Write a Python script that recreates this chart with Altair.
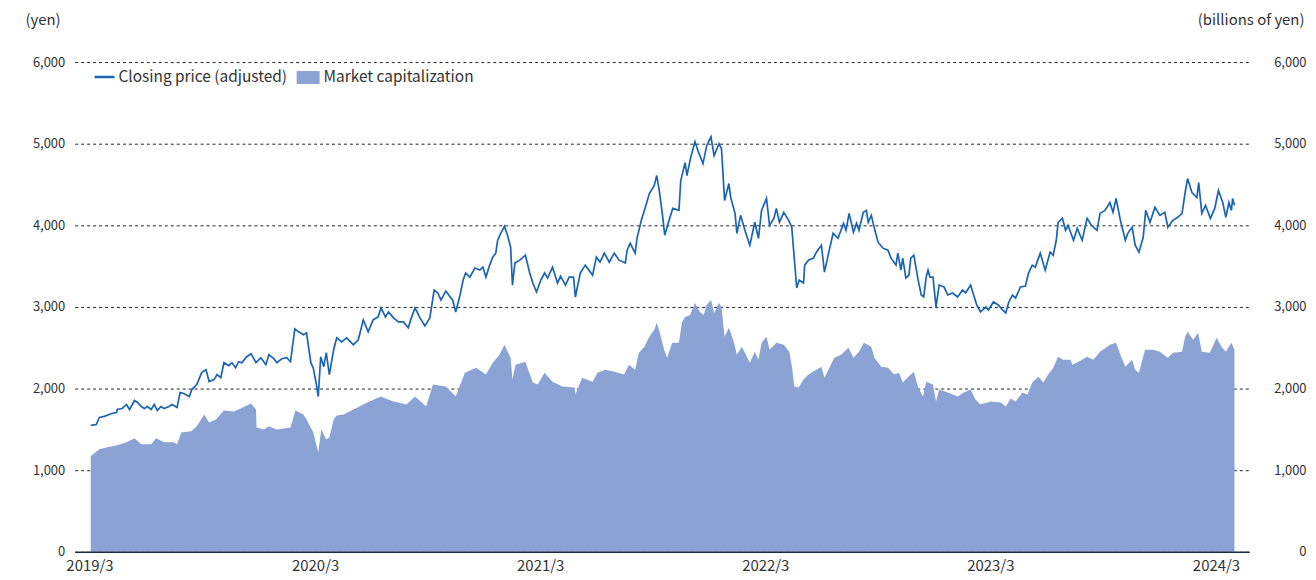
import altair as alt
import pandas as pd

# ---- data ----
# day offsets counted from 2019-03-01
price_day = [2, 11, 16, 24, 36, 44, 45, 53, 60, 65,
             73, 78, 84, 89, 94, 100, 105, 110, 116, 121,
             129, 134, 142, 147, 153, 162, 166, 174, 182, 189,
             194, 202, 207, 213, 218, 226, 231, 237, 242, 247,
             255, 262, 270, 278, 286, 291, 299, 304, 312, 320,
             326, 333, 339, 347, 352, 359, 363, 368, 371, 375,
             380, 384, 389, 396, 401, 409, 417, 428, 436, 444,
             452, 460, 468, 473, 480, 485, 493, 501, 509, 517,
             522, 528, 536, 544, 552, 559, 565, 570, 578, 585,
             589, 594, 601, 606, 610, 617, 625, 633, 638, 643,
             649, 654, 659, 662, 667, 673, 678, 683, 686, 690,
             698, 707, 714, 719, 725, 732, 738, 743, 751, 759,
             764, 772, 778, 785, 788, 796, 804, 816, 822, 828,
             835, 843, 851, 859, 869, 872, 877, 885, 888, 895,
             901, 908, 916, 920, 924, 929, 933, 940, 946, 956,
             959, 966, 969, 975, 982, 988, 995, 1001, 1008, 1013,
             1021, 1025, 1030, 1037, 1040, 1047, 1050, 1056, 1063, 1071,
             1079, 1085, 1090, 1098, 1103, 1110, 1114, 1119, 1126, 1134,
             1139, 1142, 1147, 1151, 1158, 1160, 1166, 1174, 1179, 1187,
             1192, 1198, 1206, 1214, 1223, 1227, 1232, 1239, 1244, 1248,
             1255, 1260, 1263, 1268, 1273, 1279, 1287, 1295, 1300, 1308,
             1311, 1316, 1319, 1324, 1329, 1332, 1337, 1344, 1349, 1353,
             1357, 1360, 1363, 1368, 1373, 1378, 1386, 1392, 1400, 1408,
             1416, 1421, 1429, 1434, 1439, 1445, 1454, 1458, 1466, 1474,
             1481, 1486, 1491, 1497, 1502, 1510, 1518, 1523, 1529, 1534,
             1542, 1550, 1558, 1563, 1568, 1571, 1578, 1583, 1587, 1596,
             1602, 1610, 1618, 1625, 1634, 1639, 1647, 1655, 1660, 1665,
             1672, 1680, 1684, 1691, 1696, 1702, 1709, 1713, 1720, 1728,
             1736, 1744, 1749, 1757, 1765, 1772, 1777, 1781, 1788, 1796,
             1799, 1804, 1810, 1818, 1825, 1831, 1838, 1843, 1848, 1852,
             1854, 1857]
price_val = [1549, 1560, 1646, 1660, 1695, 1707, 1744, 1756, 1805, 1744,
             1854, 1829, 1780, 1756, 1780, 1744, 1805, 1732, 1780, 1756,
             1780, 1805, 1768, 1951, 1939, 1902, 1988, 2049, 2195, 2232,
             2085, 2110, 2171, 2134, 2317, 2280, 2317, 2256, 2329, 2317,
             2390, 2427, 2317, 2378, 2293, 2415, 2366, 2317, 2366, 2378,
             2329, 2732, 2695, 2659, 2683, 2317, 2250, 2050, 1902, 2390,
             2268, 2439, 2171, 2476, 2622, 2573, 2622, 2537, 2598, 2841,
             2695, 2841, 2878, 2988, 2878, 2939, 2866, 2817, 2817, 2744,
             2866, 2988, 2866, 2768, 2866, 3207, 3171, 3085, 3195, 3122,
             3085, 2939, 3146, 3329, 3415, 3366, 3476, 3451, 3488, 3366,
             3512, 3610, 3659, 3817, 3902, 3988, 3878, 3732, 3268, 3537,
             3573, 3634, 3415, 3293, 3183, 3329, 3415, 3354, 3488, 3293,
             3378, 3268, 3366, 3366, 3122, 3415, 3512, 3390, 3610, 3549,
             3659, 3549, 3659, 3573, 3537, 3695, 3780, 3659, 3841, 4061,
             4207, 4390, 4488, 4610, 4427, 4146, 3878, 4061, 4207, 4183,
             4549, 4768, 4610, 4829, 5024, 4890, 4756, 4976, 5085, 4854,
             5000, 4939, 4305, 4512, 4341, 4146, 3902, 4122, 3939, 3756,
             4037, 3841, 4183, 4329, 4000, 4085, 4207, 4037, 4159, 4061,
             3976, 3695, 3232, 3329, 3293, 3512, 3573, 3598, 3671, 3756,
             3427, 3634, 3902, 3841, 4024, 3939, 4146, 3915, 4024, 3939,
             4159, 4183, 4037, 4122, 3963, 3793, 3720, 3695, 3598, 3512,
             3659, 3451, 3598, 3354, 3390, 3598, 3634, 3329, 3146, 3122,
             3366, 3451, 3366, 3366, 3000, 3268, 3244, 3146, 3171, 3122,
             3207, 3171, 3268, 3146, 3024, 2939, 3000, 2963, 3061, 3024,
             2963, 2927, 3061, 3146, 3110, 3244, 3256, 3415, 3512, 3488,
             3659, 3451, 3671, 3634, 3817, 4037, 4085, 3939, 4000, 3817,
             3963, 3817, 4085, 4000, 3939, 4146, 4183, 4280, 4159, 4329,
             4061, 3817, 3902, 3976, 3756, 3671, 3854, 4183, 4037, 4220,
             4122, 4159, 3976, 4061, 4098, 4146, 4402, 4573, 4402, 4341,
             4524, 4146, 4244, 4085, 4207, 4427, 4280, 4098, 4280, 4183,
             4329, 4244]

cap_day = [2, 16, 29, 45, 60, 73, 84, 100, 108, 121,
           137, 142, 149, 165, 174, 186, 194, 205, 218, 234,
           245, 262, 270, 271, 283, 291, 304, 326, 334, 347,
           352, 363, 371, 376, 384, 389, 396, 401, 412, 444,
           472, 493, 514, 528, 546, 557, 578, 594, 609, 627,
           643, 654, 665, 673, 683, 686, 691, 707, 719, 727,
           738, 751, 767, 787, 788, 799, 816, 824, 837, 851,
           867, 875, 885, 891, 900, 908, 916, 920, 925, 932,
           937, 945, 956, 961, 966, 974, 982, 990, 996, 1001,
           1008, 1013, 1021, 1025, 1030, 1037, 1045, 1050, 1058, 1063,
           1071, 1079, 1085, 1090, 1098, 1103, 1114, 1126, 1135, 1140,
           1143, 1150, 1158, 1166, 1179, 1187, 1192, 1200, 1208, 1219,
           1231, 1239, 1248, 1256, 1268, 1273, 1284, 1295, 1305, 1313,
           1319, 1328, 1337, 1344, 1352, 1357, 1368, 1373, 1378, 1392,
           1408, 1418, 1429, 1437, 1445, 1462, 1478, 1486, 1494, 1502,
           1513, 1521, 1529, 1539, 1547, 1555, 1563, 1571, 1579, 1591,
           1594, 1604, 1618, 1628, 1639, 1655, 1665, 1672, 1680, 1691,
           1696, 1702, 1712, 1725, 1736, 1749, 1757, 1772, 1777, 1781,
           1790, 1798, 1804, 1817, 1828, 1836, 1843, 1852, 1857]
cap_val = [1171, 1256, 1280, 1305, 1341, 1390, 1317, 1317, 1390, 1341,
           1341, 1317, 1463, 1476, 1537, 1683, 1585, 1622, 1732, 1720,
           1756, 1817, 1744, 1524, 1500, 1537, 1500, 1524, 1732, 1683,
           1622, 1463, 1220, 1500, 1378, 1400, 1622, 1671, 1683, 1805,
           1902, 1841, 1805, 1902, 1780, 2049, 2024, 1902, 2195, 2256,
           2171, 2317, 2415, 2537, 2378, 2110, 2293, 2329, 2073, 2049,
           2195, 2085, 2024, 2012, 1927, 2134, 2085, 2195, 2232, 2207,
           2171, 2293, 2232, 2439, 2512, 2634, 2720, 2805, 2683, 2476,
           2378, 2561, 2561, 2817, 2878, 2902, 3049, 2939, 2902, 3024,
           3085, 2927, 3049, 3000, 2634, 2744, 2573, 2415, 2512, 2439,
           2317, 2451, 2354, 2561, 2634, 2476, 2561, 2537, 2451, 2232,
           2024, 2012, 2110, 2171, 2232, 2268, 2134, 2256, 2378, 2415,
           2500, 2378, 2451, 2561, 2512, 2378, 2268, 2256, 2171, 2195,
           2073, 2146, 2207, 2012, 1902, 2085, 2049, 1841, 1988, 1951,
           1902, 1951, 1988, 1866, 1805, 1841, 1829, 1780, 1878, 1841,
           1951, 1927, 2073, 2146, 2073, 2171, 2256, 2390, 2354, 2354,
           2293, 2329, 2390, 2354, 2451, 2537, 2561, 2415, 2268, 2354,
           2232, 2195, 2476, 2476, 2451, 2378, 2439, 2451, 2634, 2695,
           2598, 2683, 2451, 2439, 2622, 2512, 2451, 2561, 2476]

tick_years = [2019, 2020, 2021, 2022, 2023, 2024]
y_ticks = [0, 1000, 2000, 3000, 4000, 5000, 6000]
legend_labels = ["Closing price (adjusted)", "Market capitalization"]

# ---- styling ----
FONT = "Noto Sans CJK JP"
LINE_COLOR = "#1b64b2"
AREA_COLOR = "#8ba3d4"
TEXT_COLOR = "#333333"

base = pd.Timestamp("2019-03-01")
price_df = pd.DataFrame({"date": base + pd.to_timedelta(price_day, unit="D"),
                         "price": price_val})
cap_df = pd.DataFrame({"date": base + pd.to_timedelta(cap_day, unit="D"),
                       "cap": cap_val})
leg1 = pd.DataFrame({"label": [legend_labels[0]]})
leg2 = pd.DataFrame({"label": [legend_labels[1]]})

x_scale = alt.Scale(domain=[alt.DateTime(year=2019, month=2, date=5),
                            alt.DateTime(year=2024, month=4, date=24)])
x_axis = alt.Axis(values=[alt.DateTime(year=y, month=3, date=1) for y in tick_years],
                  format="%Y/%-m", title=None, grid=False, ticks=False,
                  domain=True, domainColor="#1c2a3e", domainWidth=1.5,
                  labelFontSize=15, labelColor=TEXT_COLOR, labelFont=FONT,
                  labelPadding=7, zindex=1)

area = alt.Chart(cap_df).mark_area(color=AREA_COLOR, opacity=1).encode(
    x=alt.X("date:T", scale=x_scale, axis=x_axis),
    y=alt.Y("cap:Q", scale=alt.Scale(domain=[0, 6000]),
            axis=alt.Axis(orient="right", values=y_ticks, format=",.0f",
                          grid=False, ticks=False, domain=False,
                          labelAlign="right", labelPadding=57,
                          labelFontSize=13, labelColor=TEXT_COLOR, labelFont=FONT,
                          title="(billions of yen)", titleAngle=0,
                          titleAlign="right", titleBaseline="alphabetic",
                          titleX=55, titleY=-38, titleFontSize=15,
                          titleFontWeight="normal", titleColor=TEXT_COLOR,
                          titleFont=FONT)),
)

line = alt.Chart(price_df).mark_line(color=LINE_COLOR, strokeWidth=1.7).encode(
    x=alt.X("date:T", scale=x_scale, axis=x_axis),
    y=alt.Y("price:Q", scale=alt.Scale(domain=[0, 6000]),
            axis=alt.Axis(orient="left", values=y_ticks, format=",.0f",
                          grid=True, gridDash=[3, 3], gridColor="#222222",
                          gridWidth=1, ticks=False, domain=False,
                          labelPadding=10, labelFontSize=13,
                          labelColor=TEXT_COLOR, labelFont=FONT,
                          title="(yen)", titleAngle=0, titleAlign="left",
                          titleBaseline="alphabetic", titleX=-50, titleY=-38,
                          titleFontSize=15, titleFontWeight="normal",
                          titleColor=TEXT_COLOR, titleFont=FONT)),
)

leg_line = alt.Chart(leg1).mark_rule(color=LINE_COLOR, strokeWidth=2.5).encode(
    x=alt.value(20), x2=alt.value(40), y=alt.value(15))
leg_text1 = alt.Chart(leg1).mark_text(align="left", baseline="middle", fontSize=15.5,
                                      font=FONT, color=TEXT_COLOR).encode(
    x=alt.value(44), y=alt.value(15), text="label:N")
leg_rect = alt.Chart(leg2).mark_rect(color=AREA_COLOR).encode(
    x=alt.value(223), x2=alt.value(246), y=alt.value(9), y2=alt.value(22))
leg_text2 = alt.Chart(leg2).mark_text(align="left", baseline="middle", fontSize=15.5,
                                      font=FONT, color=TEXT_COLOR).encode(
    x=alt.value(250), y=alt.value(15), text="label:N")

chart = alt.layer(area, line, leg_line, leg_text1, leg_rect, leg_text2).resolve_scale(
    y="independent"
).properties(
    width=1180, height=492,
    autosize=alt.AutoSizeParams(type="none"),
    padding={"left": 67, "top": 53, "right": 59, "bottom": 27},
    background="white",
).configure_view(stroke=None)

chart.save("out.html", embed_options={"renderer": "svg", "actions": False})
